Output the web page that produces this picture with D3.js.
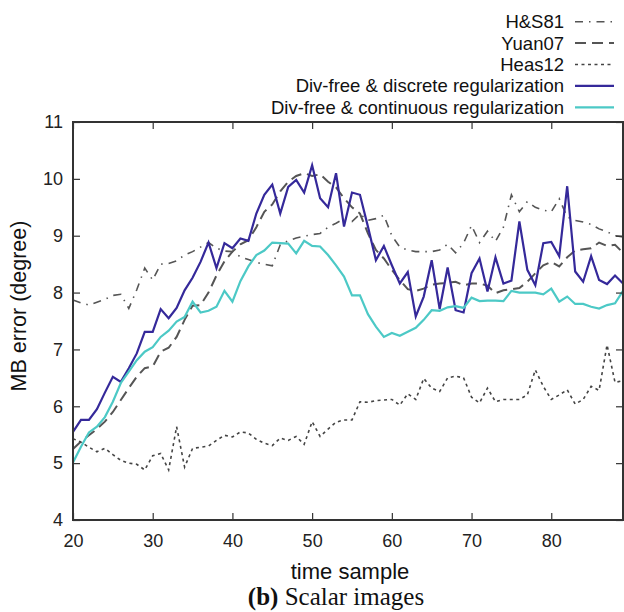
<!DOCTYPE html>
<html><head><meta charset="utf-8">
<script src="https://cdn.jsdelivr.net/npm/d3@7"></script>
<style>
body{margin:0;background:#fff;}
svg{display:block;}
</style></head>
<body><svg id="chart" width="624" height="612"></svg>
<script>
const timeSamples = [20,21,22,23,24,25,26,27,28,29,30,31,32,33,34,35,36,37,38,39,40,41,42,43,44,45,46,47,48,49,50,51,52,53,54,55,56,57,58,59,60,61,62,63,64,65,66,67,68,69,70,71,72,73,74,75,76,77,78,79,80,81,82,83,84,85,86,87,88,89];

const hs81 = [7.87,7.82,7.78,7.83,7.88,7.95,7.97,7.72,8.05,8.43,8.22,8.50,8.51,8.56,8.66,8.72,8.80,8.88,8.78,8.73,8.72,8.63,8.58,8.53,8.50,8.47,8.84,8.91,8.96,8.99,9.02,9.04,9.15,9.22,9.30,9.25,9.38,9.27,9.30,9.36,9.00,8.80,8.75,8.72,8.72,8.72,8.75,8.85,8.70,8.87,9.18,8.88,9.08,8.90,9.15,9.72,9.42,9.60,9.50,9.45,9.42,9.65,9.33,9.27,9.24,9.20,9.12,9.07,9.00,8.98];

const yuan07 = [5.25,5.38,5.49,5.60,5.73,5.90,6.11,6.32,6.52,6.67,6.70,6.96,7.03,7.22,7.52,7.77,7.78,8.00,8.30,8.55,8.72,8.85,8.92,9.15,9.42,9.55,9.78,9.95,10.05,10.10,10.05,10.08,9.95,9.85,9.66,9.50,9.39,9.04,8.75,8.60,8.40,8.22,8.06,8.03,8.07,8.14,8.16,8.17,8.19,8.13,8.16,8.16,8.12,7.99,8.04,8.06,8.08,8.19,8.34,8.48,8.54,8.46,8.62,8.74,8.76,8.78,8.88,8.82,8.84,8.70];

const heas12 = [5.43,5.37,5.28,5.20,5.26,5.15,5.05,5.00,4.98,4.88,5.13,5.17,4.88,5.64,4.93,5.26,5.28,5.30,5.40,5.49,5.46,5.55,5.53,5.42,5.35,5.31,5.44,5.40,5.47,5.33,5.73,5.47,5.60,5.72,5.76,5.76,6.08,6.07,6.10,6.11,6.12,6.02,6.22,6.12,6.49,6.32,6.26,6.50,6.53,6.50,6.16,6.06,6.32,6.08,6.12,6.12,6.12,6.20,6.64,6.35,6.12,6.20,6.29,6.04,6.12,6.35,6.28,7.08,6.42,6.45];

const divDiscrete = [5.55,5.76,5.76,5.95,6.24,6.52,6.43,6.67,6.93,7.31,7.31,7.71,7.55,7.73,8.04,8.26,8.54,8.88,8.43,8.87,8.78,8.95,8.91,9.39,9.72,9.90,9.39,9.86,9.98,9.76,10.24,9.66,9.50,10.10,9.16,9.76,9.72,9.16,8.57,8.82,8.48,8.16,8.36,7.58,7.93,8.57,7.71,8.44,7.69,7.65,8.34,8.60,8.02,8.62,8.16,8.21,9.25,8.40,8.13,8.87,8.89,8.64,9.87,8.37,8.19,8.64,8.22,8.15,8.30,8.16];

const divContinuous = [5.01,5.29,5.54,5.64,5.81,6.08,6.41,6.61,6.81,6.96,7.04,7.22,7.33,7.49,7.57,7.84,7.65,7.68,7.75,8.03,7.84,8.20,8.46,8.66,8.74,8.88,8.87,8.86,8.69,8.91,8.82,8.81,8.66,8.48,8.28,7.95,7.95,7.62,7.40,7.22,7.29,7.24,7.31,7.38,7.52,7.69,7.68,7.74,7.76,7.73,7.91,7.85,7.86,7.86,7.85,8.03,8.00,8.00,8.00,7.97,8.07,7.84,7.93,7.80,7.80,7.75,7.72,7.78,7.81,8.03];

const seriesNames = ["H&S81","Yuan07","Heas12","Div-free & discrete regularization","Div-free & continuous regularization"];
const xTicks = [20,30,40,50,60,70,80];
const yTicks = [4,5,6,7,8,9,10,11];
const xLabel = "time sample";
const yLabel = "MB error (degree)";

const styles = [
  {color:"#555", width:1.6, dash:"8,6,1.5,6"},
  {color:"#555", width:2, dash:"11,6"},
  {color:"#444", width:1.6, dash:"3,3.5"},
  {color:"#35299a", width:2.2, dash:null},
  {color:"#4cc9c6", width:2.2, dash:null}
];
const seriesData = [hs81, yuan07, heas12, divDiscrete, divContinuous];

const svg = d3.select("#chart");
const L = 73, R = 623, T = 122, B = 520;
const x = d3.scaleLinear().domain([20, 89]).range([L, R]);
const y = d3.scaleLinear().domain([4, 11]).range([B, T]);
const font = "'Liberation Sans', Arial, Helvetica, sans-serif";
const axisColor = "#333";

// series lines
const line = d3.line().x((d,i)=>x(timeSamples[i])).y(d=>y(d));
seriesData.forEach((s, k) => {
  const st = styles[k];
  svg.append("path").datum(s)
    .attr("d", line)
    .attr("fill","none")
    .attr("stroke", st.color)
    .attr("stroke-width", st.width)
    .attr("stroke-linejoin","miter")
    .attr("stroke-dasharray", st.dash);
});

// axes
function styleAxis(g){
  g.selectAll(".domain").remove();
  g.selectAll(".tick line").attr("stroke", axisColor).attr("stroke-width",1.2);
  g.selectAll(".tick text").attr("fill","#222").style("font-family",font).style("font-size","18px");
}
svg.append("g").attr("transform",`translate(0,${B})`)
  .call(d3.axisBottom(x).tickValues(xTicks).tickSizeInner(-7).tickSizeOuter(0).tickPadding(14).tickFormat(d3.format("d")))
  .call(styleAxis);
svg.append("g").attr("transform",`translate(0,${T})`)
  .call(d3.axisTop(x).tickValues(xTicks).tickSizeInner(-7).tickSizeOuter(0).tickFormat(""))
  .call(styleAxis);
svg.append("g").attr("transform",`translate(${L},0)`)
  .call(d3.axisLeft(y).tickValues(yTicks).tickSizeInner(-7).tickSizeOuter(0).tickPadding(10).tickFormat(d3.format("d")))
  .call(styleAxis);
svg.append("g").attr("transform",`translate(${R},0)`)
  .call(d3.axisRight(y).tickValues(yTicks).tickSizeInner(-7).tickSizeOuter(0).tickFormat(""))
  .call(styleAxis);

// frame
svg.append("rect").attr("x",L).attr("y",T).attr("width",R-L).attr("height",B-T)
  .attr("fill","none").attr("stroke",axisColor).attr("stroke-width",2);

// axis titles
svg.append("text").attr("x",(L+R)/2 + 2).attr("y",579).attr("text-anchor","middle")
  .style("font-family",font).style("font-size","22px").attr("fill","#111").text(xLabel);
svg.append("text").attr("transform",`translate(26,306) rotate(-90)`).attr("text-anchor","middle")
  .style("font-family",font).style("font-size","21.5px").attr("fill","#111").text(yLabel);

// caption
const cap = svg.append("text").attr("x",336).attr("y",605).attr("text-anchor","middle")
  .style("font-family","'Liberation Serif','DejaVu Serif',serif").style("font-size","25px").attr("fill","#111");
cap.append("tspan").attr("font-weight","bold").text("(b)");
cap.append("tspan").text(" Scalar images");

// legend
const legend = svg.append("g");
seriesNames.forEach((name, k) => {
  const ly = 21.7 + k*21.4;
  const st = styles[k];
  legend.append("text").attr("x",564).attr("y",ly+6.5).attr("text-anchor","end")
    .style("font-family",font).style("font-size","18.5px").attr("fill","#111").text(name);
  legend.append("line").attr("x1",575).attr("x2",614).attr("y1",ly).attr("y2",ly)
    .attr("stroke",st.color).attr("stroke-width",st.width).attr("stroke-dasharray",st.dash);
});
</script></body></html>
